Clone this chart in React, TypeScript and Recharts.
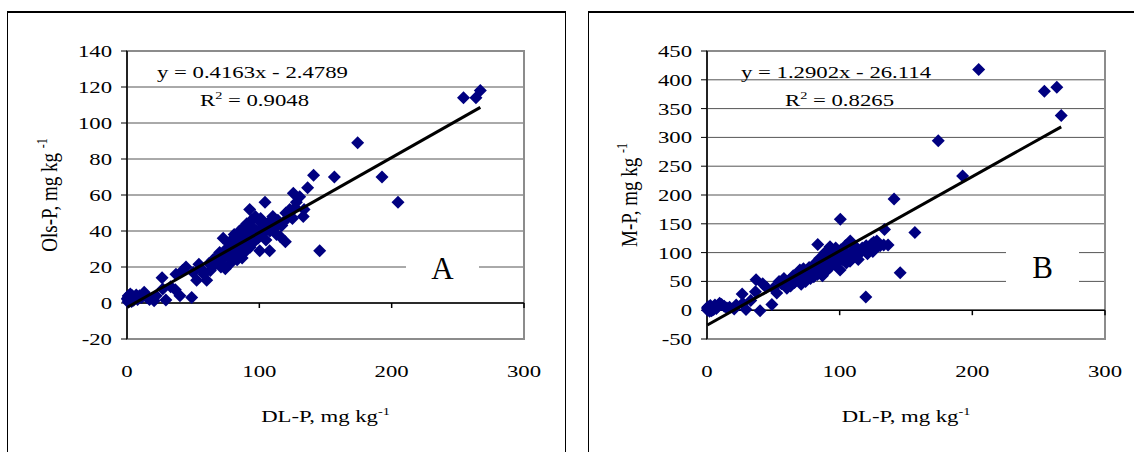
import { ScatterChart, Scatter, XAxis, YAxis, CartesianGrid, ReferenceLine, ReferenceArea } from 'recharts';

// DL-P (shared x), Ols-P (panel A) and M-P (panel B), mg kg-1
const DL_P = [
    0.3, 0.5, 0.8, 1, 1.2, 1.5, 2, 2.5, 3, 3.5, 4, 5, 6, 7, 8, 9.5, 11, 13, 15, 17,
    20.5, 22, 26.5, 27, 29.4, 33, 36.5, 37, 40, 42, 44.6, 48.9, 50, 52.6, 54.3, 56, 58, 60.2, 62, 63,
    65, 66, 68, 69, 70, 71, 72.7, 73, 74.3, 75, 76, 77, 78, 79, 80, 80.5, 81, 82, 83.2, 83.5,
    84, 84.5, 85, 86, 86.5, 87, 88, 88.5, 89, 90, 90.5, 91, 92, 92.7, 93, 94, 94.5, 95, 96, 97,
    98, 99, 100.3, 100.5, 101, 102, 103, 104.3, 105, 106, 107.8, 108, 109, 110.2, 111, 112, 113, 114, 115.7, 117,
    119.7, 120, 121, 123, 124, 125, 125.7, 127, 128, 130.5, 133.2, 133.8, 136.5, 141, 145.6, 156.7, 174.3, 192.7, 204.8, 254.3,
    263.7, 267,
];

const OLS_P = [
    2.5, 2, 0.5, 4, 3.5, 1, 3, 5, 2, 0.8, 4, 1.5, 3, 4.5, 2, 4, 3, 6, 3, 2,
    1.2, 4, 14, 7.8, 1.7, 9, 7.3, 16, 4, 18, 20, 3, 17, 12.6, 21.5, 19, 16, 12.6, 22, 18,
    24, 21, 26, 23, 28, 20, 36, 25, 19, 30, 27, 33, 22, 35, 29, 25, 38, 31, 24, 33,
    34, 27, 40, 30, 36, 25, 42, 33, 38, 29, 44, 35, 40, 52, 31, 46, 38, 42, 34, 48,
    40, 36, 29, 45, 47, 38, 42, 56, 35, 44, 29, 40, 46, 48, 41, 44, 38, 46, 37, 43,
    34, 50, 47, 52, 48, 47, 61, 53, 56, 59, 48, 52, 64, 71, 29, 70, 89, 70, 56, 114,
    114, 118,
];

const M_P = [
    4, 0, 6, 3, 1, 5, -2, 8, 2, -1, 4, 1, 9, 3, 6, 12, 10, 7, 4, 5,
    2, 9, 28, 12, 1, 17, 32, 53, -1, 46, 40, 10, 38, 30, 50, 46, 55, 38, 52, 42,
    60, 48, 56, 63, 70, 45, 72, 58, 50, 66, 61, 74, 55, 68, 72, 58, 80, 65, 62, 114,
    85, 75, 90, 70, 82, 60, 95, 78, 100, 68, 88, 85, 105, 110, 75, 95, 90, 100, 80, 108,
    92, 85, 70, 158, 105, 88, 98, 112, 82, 95, 85, 120, 100, 92, 105, 110, 95, 88, 100, 108,
    23, 112, 98, 105, 115, 102, 118, 108, 120, 112, 113, 140, 113, 193, 65, 135, 294, 233, 418, 380,
    387, 338,
];

const X_TICKS = [0, 100, 200, 300];
const OLS_TICKS = [-20, 0, 20, 40, 60, 80, 100, 120, 140];
const M_TICKS = [-50, 0, 50, 100, 150, 200, 250, 300, 350, 400, 450];

const OLS_FIT = { slope: 0.4163, intercept: -2.4789, r2: '0.9048' };
const M_FIT = { slope: 1.2902, intercept: -26.114, r2: '0.8265' };

const FONT = '"Liberation Serif", "Times New Roman", serif';
const NAVY = '#000080';
const TXT = 17.5;
const STRETCH = 1.3;

const PLOT_TOP = 51;
const PLOT_BOTTOM = 339;
const Y_AXIS_W = 127;
const CHART_H = 452;

// text in the original is stretched sideways, so scale glyphs horizontally
function WideText({ x, y, anchor = 'middle', size = TXT, children }: any) {
    return (
        <text
            transform={`translate(${x} ${y}) scale(${STRETCH} 1)`}
            textAnchor={anchor}
            fontFamily={FONT}
            fontSize={size}
            fill="#000"
        >
            {children}
        </text>
    );
}

const YTick = ({ x, y, payload }: any) => (
    <WideText x={x} y={y + TXT * 0.34} anchor="end">{payload.value}</WideText>
);

const XTick = ({ x, y, payload }: any) => (
    <WideText x={x} y={y + 32 + TXT * 0.34}>{payload.value}</WideText>
);

const Diamond = ({ cx, cy }: any) => {
    if (cx == null || cy == null) return <g />;
    const r = 6.5;
    return (
        <polygon
            points={`${cx},${cy - r} ${cx + r},${cy} ${cx},${cy + r} ${cx - r},${cy}`}
            fill={NAVY}
        />
    );
};

const NoDot = () => <g />;

interface PanelProps {
    left: number;
    width: number;
    rightGap: number;
    yTicks: number[];
    yValues: number[];
    fit: { slope: number; intercept: number; r2: string };
    yTitle: string;
    eqX: number;
    r2X: number;
    letter: string;
    letterBox: { x: number; y: number; w: number; h: number };
    letterY: number;
}

function Panel({ left, width, rightGap, yTicks, yValues, fit, yTitle, eqX, r2X, letter, letterBox, letterY }: PanelProps) {
    const points = DL_P.map((x, i) => ({ x, y: yValues[i] }));
    const xMin = Math.min(...DL_P);
    const xMax = Math.max(...DL_P);
    const trend = [
        { x: xMin, y: fit.slope * xMin + fit.intercept },
        { x: xMax, y: fit.slope * xMax + fit.intercept },
    ];
    const yMin = yTicks[0];
    const yMax = yTicks[yTicks.length - 1];
    // 5px tick marks on the zero line, in data units
    const tickUnits = (5 * (yMax - yMin)) / (PLOT_BOTTOM - PLOT_TOP);
    const plotLeft = Y_AXIS_W;
    const plotRight = width - rightGap;
    const signed = fit.intercept < 0 ? ` - ${Math.abs(fit.intercept)}` : ` + ${fit.intercept}`;

    return (
        <div style={{ position: 'absolute', left, top: 0, width, height: CHART_H }}>
            <ScatterChart
                width={width}
                height={CHART_H}
                margin={{ top: PLOT_TOP, right: rightGap, bottom: 0, left: 0 }}
            >
                <CartesianGrid vertical={false} stroke="#555" strokeWidth={1} />
                <ReferenceArea
                    x1={X_TICKS[0]}
                    x2={X_TICKS[X_TICKS.length - 1]}
                    y1={yMin}
                    y2={yMax}
                    fill="none"
                    fillOpacity={0}
                    stroke="#8c8c8c"
                    strokeWidth={2}
                />
                <XAxis
                    type="number"
                    dataKey="x"
                    domain={[X_TICKS[0], X_TICKS[X_TICKS.length - 1]]}
                    ticks={X_TICKS}
                    interval={0}
                    height={CHART_H - PLOT_BOTTOM}
                    axisLine={false}
                    tickLine={false}
                    tickSize={0}
                    tickMargin={0}
                    tick={<XTick />}
                />
                <YAxis
                    type="number"
                    dataKey="y"
                    domain={[yMin, yMax]}
                    ticks={yTicks}
                    interval={0}
                    width={Y_AXIS_W}
                    axisLine={{ stroke: '#000', strokeWidth: 1.5 }}
                    tickLine={{ stroke: '#000' }}
                    tickSize={6}
                    tickMargin={9}
                    tick={<YTick />}
                />
                <ReferenceLine y={0} stroke="#000" strokeWidth={1.5} />
                {X_TICKS.slice(1).map(v => (
                    <ReferenceLine
                        key={v}
                        segment={[{ x: v, y: 0 }, { x: v, y: -tickUnits }]}
                        stroke="#000"
                        strokeWidth={1.5}
                    />
                ))}
                <Scatter data={points} shape={<Diamond />} isAnimationActive={false} />
                <Scatter
                    data={trend}
                    shape={<NoDot />}
                    line={{ stroke: '#000', strokeWidth: 3 }}
                    isAnimationActive={false}
                />
            </ScatterChart>

            <svg
                width={width}
                height={CHART_H}
                style={{ position: 'absolute', left: 0, top: 0, pointerEvents: 'none' }}
            >
                <WideText x={eqX} y={78} anchor="start">{`y = ${fit.slope}x${signed}`}</WideText>
                <WideText x={r2X} y={106} anchor="start">
                    R<tspan dy={-7} fontSize={11}>2</tspan>
                    <tspan dy={7}>{` = ${fit.r2}`}</tspan>
                </WideText>
                <rect x={letterBox.x} y={letterBox.y} width={letterBox.w} height={letterBox.h} fill="#fff" />
                <text
                    x={letterBox.x + letterBox.w / 2}
                    y={letterY}
                    textAnchor="middle"
                    fontFamily={FONT}
                    fontSize={31}
                    fill="#000"
                >
                    {letter}
                </text>
                <WideText x={(plotLeft + plotRight) / 2} y={422}>
                    DL-P, mg kg<tspan dy={-7} fontSize={11}>-1</tspan>
                </WideText>
                <text
                    transform={`translate(57 ${(PLOT_TOP + PLOT_BOTTOM) / 2}) rotate(-90) scale(1 1.25)`}
                    textAnchor="middle"
                    fontFamily={FONT}
                    fontSize={19}
                    fill="#000"
                >
                    {yTitle} <tspan dy={-8} fontSize={12}>-1</tspan>
                </text>
            </svg>
        </div>
    );
}

export default function App() {
    const frame = (x: number, w: number) => ({
        position: 'absolute' as const,
        left: x,
        top: 11,
        width: w,
        height: 460,
        borderTop: '2px solid #000',
        borderLeft: '1px solid #000',
        borderRight: '1px solid #000',
        boxSizing: 'border-box' as const,
    });

    return (
        <div
            style={{
                position: 'absolute',
                left: 0,
                top: 0,
                width: 1134,
                height: CHART_H,
                overflow: 'hidden',
                background: '#fff',
            }}
        >
            <div style={frame(7, 559)} />
            <div style={frame(588, 560)} />
            <Panel
                left={0}
                width={560}
                rightGap={36}
                yTicks={OLS_TICKS}
                yValues={OLS_P}
                fit={OLS_FIT}
                yTitle="Ols-P, mg kg"
                eqX={157}
                r2X={200}
                letter="A"
                letterBox={{ x: 406, y: 244, w: 73, h: 50 }}
                letterY={279}
            />
            <Panel
                left={580}
                width={554}
                rightGap={29}
                yTicks={M_TICKS}
                yValues={M_P}
                fit={M_FIT}
                yTitle="M-P, mg kg"
                eqX={161}
                r2X={205}
                letter="B"
                letterBox={{ x: 426, y: 238, w: 73, h: 58 }}
                letterY={278}
            />
        </div>
    );
}
